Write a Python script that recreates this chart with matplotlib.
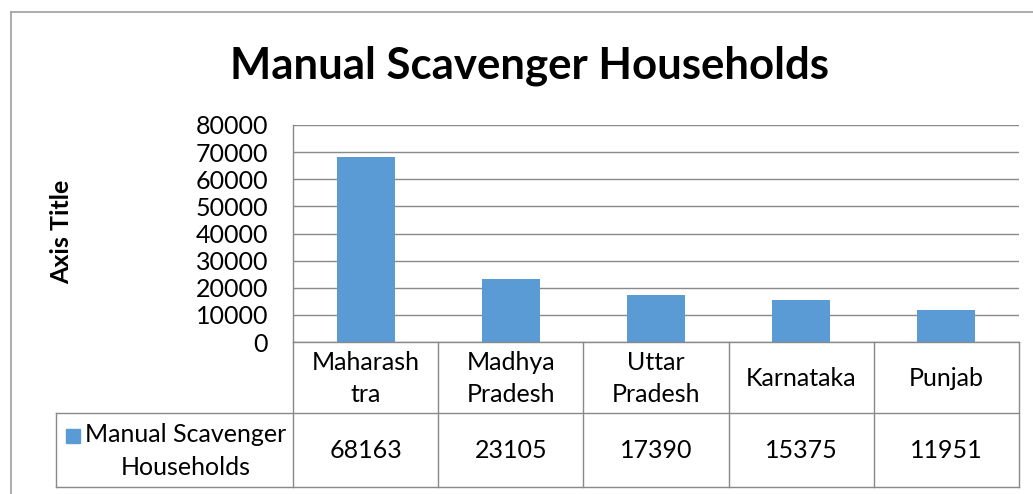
import matplotlib
matplotlib.use("Agg")
import matplotlib.pyplot as plt
from matplotlib.lines import Line2D
from matplotlib.patches import Rectangle

categories = ["Maharash\ntra", "Madhya\nPradesh", "Uttar\nPradesh", "Karnataka", "Punjab"]
values = [68163, 23105, 17390, 15375, 11951]
series_name = "Manual Scavenger\nHouseholds"
yticks = [0, 10000, 20000, 30000, 40000, 50000, 60000, 70000, 80000]

plt.rcParams['font.family'] = ['Lato', 'DejaVu Sans']

W, H = 1033, 494
fig = plt.figure(figsize=(W / 100, H / 100), dpi=100)
fig.patch.set_facecolor('white')

def fx(px):
    return px / W

def fy(py):
    return 1 - py / H

BAR = '#5B9BD5'
GRID = '#898989'
FRAME = '#A6A6A6'
FS = 18
LS = 1.5

# plot area
L, R, T, B = 293, 1019, 125, 342
ax = fig.add_axes([fx(L), fy(B), fx(R - L), (B - T) / H])
x = list(range(len(values)))
ax.bar(x, values, width=0.4, color=BAR, zorder=3)
ax.set_xlim(-0.5, len(values) - 0.5)
ax.set_ylim(0, 80000)
ax.set_yticks(yticks)
ax.set_yticklabels([str(v) for v in yticks], fontsize=FS)
ax.set_xticks([])
ax.tick_params(axis='y', length=0, pad=18)
ax.yaxis.grid(True, color=GRID, linewidth=1)
ax.set_axisbelow(True)
for s in ['top', 'right', 'bottom']:
    ax.spines[s].set_visible(False)
ax.spines['left'].set_color(GRID)
ax.spines['left'].set_linewidth(1)

# data table
TB = 487
MID = 413
tax = fig.add_axes([fx(L), fy(TB), fx(R - L), (TB - B) / H])
tax.set_xlim(-0.5, len(values) - 0.5)
tax.set_ylim(TB, B)
tax.axis('off')
colw = (R - L) / len(values)
legend_left = -0.5 - (L - 56) / colw
kw = dict(color=GRID, linewidth=1, clip_on=False)
tax.add_line(Line2D([-0.5, len(values) - 0.5], [B, B], **kw))
tax.add_line(Line2D([legend_left, len(values) - 0.5], [MID, MID], **kw))
tax.add_line(Line2D([legend_left, len(values) - 0.5], [TB, TB], **kw))
tax.add_line(Line2D([legend_left, legend_left], [MID, TB], **kw))
for i in range(len(values) + 1):
    tax.add_line(Line2D([i - 0.5, i - 0.5], [B, TB], **kw))
for i, (c, v) in enumerate(zip(categories, values)):
    tax.text(i, (B + MID) / 2 + 1, c, ha='center', va='center', fontsize=FS,
             linespacing=LS)
    tax.text(i, (MID + TB) / 2, str(v), ha='center', va='center', fontsize=FS)

# legend cell
fig.text(fx(186), fy(451), series_name, ha='center', va='center', fontsize=FS,
         linespacing=LS)
fig.patches.append(Rectangle((fx(66), fy(443)), fx(14), 14 / H, color=BAR,
                             transform=fig.transFigure, figure=fig))

# title and axis title
fig.text(fx(530), fy(66), "Manual Scavenger Households", ha='center', va='center',
         fontsize=31.5, fontweight='bold')
fig.text(fx(62), fy(232), "Axis Title", ha='center', va='center', rotation=90,
         fontsize=18, fontweight='bold')

# outer frame
fig.lines.append(Line2D([fx(11), fx(11)], [fy(12), 0], color=FRAME, linewidth=1.3,
                        transform=fig.transFigure))
fig.lines.append(Line2D([fx(11), 1], [fy(12), fy(12)], color=FRAME, linewidth=1.3,
                        transform=fig.transFigure))

fig.savefig('out.png', dpi=100, facecolor='white')
